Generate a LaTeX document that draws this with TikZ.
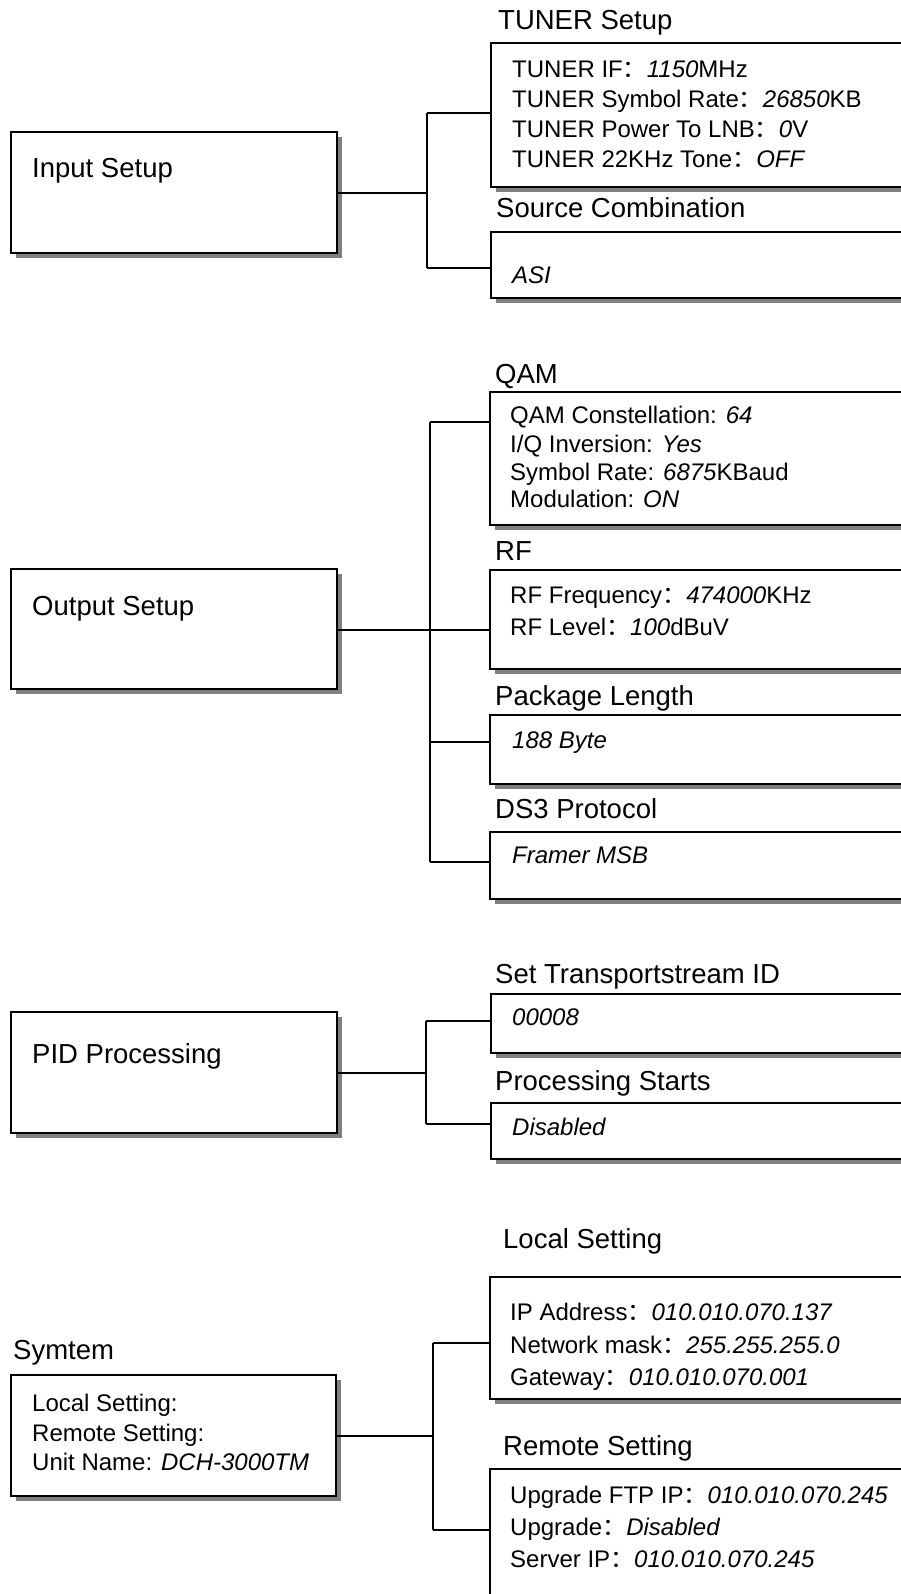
\documentclass[tikz,border=0pt]{standalone}
\usepackage{fontspec}
\setmainfont{Liberation Sans}
\newfontfamily\cjkfont{Noto Sans CJK SC}
\usetikzlibrary{shadows}
\newcommand{\fc}{{\cjkfont ：}}
\begin{document}
\begin{tikzpicture}[x=1pt,y=-1pt,
  sbox/.style={draw=black, fill=white, line width=1.8pt, rectangle, inner sep=0pt, anchor=north west,
    drop shadow={shadow xshift=5pt, shadow yshift=-5pt, fill=black!50, opacity=1}},
  big/.style={font=\fontsize{27.5}{32}\selectfont, anchor=base west, inner sep=0pt},
  txt/.style={font=\fontsize{24}{28}\selectfont, anchor=base west, inner sep=0pt},
  conn/.style={draw=black, line width=1.8pt}]
\useasboundingbox (0,0) rectangle (901,1594);
\clip (0,0) rectangle (901,1594);
\fill[white] (0,0) rectangle (901,1594);

% ---------------- Input Setup ----------------
\node[sbox, minimum width=326pt, minimum height=121pt] (input) at (10,131) {};
\node[big] (inputL) at (32,178) {Input Setup};

\node[big] (tunerT) at (498,30) {TUNER Setup};
\node[sbox, minimum width=440pt, minimum height=144pt] (tuner) at (490,42) {};
\node[txt] (t1) at (512,78) {TUNER IF\fc\textit{1150}MHz};
\node[txt] (t2) at (512,108) {TUNER Symbol Rate\fc\textit{26850}KB};
\node[txt] (t3) at (512,138) {TUNER Power To LNB\fc\textit{0}V};
\node[txt] (t4) at (512,168) {TUNER 22KHz Tone\fc\textit{OFF}};

\node[big] (srcT) at (496,218) {Source Combination};
\node[sbox, minimum width=440pt, minimum height=66pt] (src) at (490,231) {};
\node[txt] (s1) at (512,284) {\textit{ASI}};

\coordinate (a0) at (427,193);
\coordinate (a1) at (427,113);
\coordinate (a2) at (427,268);
\draw[conn] (input.east |- a0) -- (a0);
\draw[conn] (a1) -- (a2);
\draw[conn] (a1) -- (tuner.west |- a1);
\draw[conn] (a2) -- (src.west |- a2);

% ---------------- Output Setup ----------------
\node[sbox, minimum width=326pt, minimum height=120pt] (output) at (10,568) {};
\node[big] (outputL) at (32,615) {Output Setup};

\node[big] (qamT) at (495,383) {QAM};
\node[sbox, minimum width=441pt, minimum height=133pt] (qam) at (489,391) {};
\node[txt] (q1) at (510,423) {QAM Constellation: \textit{64}};
\node[txt] (q2) at (510,452) {I/Q Inversion: \textit{Yes}};
\node[txt] (q3) at (510,480) {Symbol Rate: \textit{6875}KBaud};
\node[txt] (q4) at (510,507) {Modulation: \textit{ON}};

\node[big] (rfT) at (495,560) {RF};
\node[sbox, minimum width=441pt, minimum height=99pt] (rf) at (489,569) {};
\node[txt] (r1) at (510,603) {RF Frequency\fc\textit{474000}KHz};
\node[txt] (r2) at (510,635) {RF Level\fc\textit{100}dBuV};

\node[big] (pkgT) at (495,705) {Package Length};
\node[sbox, minimum width=441pt, minimum height=69pt] (pkg) at (489,714) {};
\node[txt] (p1) at (512,748) {\textit{188 Byte}};

\node[big] (dsT) at (495,818) {DS3 Protocol};
\node[sbox, minimum width=441pt, minimum height=67pt] (ds) at (489,831) {};
\node[txt] (d1) at (512,863) {\textit{Framer MSB}};

\coordinate (b1) at (430,422);
\coordinate (b2) at (430,630);
\coordinate (b3) at (430,742);
\coordinate (b4) at (430,862);
\draw[conn] (b1) -- (b4);
\draw[conn] (output.east |- b2) -- (rf.west |- b2);
\draw[conn] (b1) -- (qam.west |- b1);
\draw[conn] (b3) -- (pkg.west |- b3);
\draw[conn] (b4) -- (ds.west |- b4);

% ---------------- PID Processing ----------------
\node[sbox, minimum width=326pt, minimum height=121pt] (pid) at (10,1011) {};
\node[big] (pidL) at (32,1063) {PID Processing};

\node[big] (tsT) at (495,983) {Set Transportstream ID};
\node[sbox, minimum width=440pt, minimum height=59pt] (ts) at (490,993) {};
\node[txt] (ts1) at (512,1025) {\textit{00008}};

\node[big] (psT) at (495,1090) {Processing Starts};
\node[sbox, minimum width=440pt, minimum height=56pt] (ps) at (490,1102) {};
\node[txt] (ps1) at (512,1135) {\textit{Disabled}};

\coordinate (c0) at (426,1073);
\coordinate (c1) at (426,1021);
\coordinate (c2) at (426,1124);
\draw[conn] (pid.east |- c0) -- (c0);
\draw[conn] (c1) -- (c2);
\draw[conn] (c1) -- (ts.west |- c1);
\draw[conn] (c2) -- (ps.west |- c2);

% ---------------- Symtem ----------------
\node[big] (sysT) at (13,1359) {Symtem};
\node[sbox, minimum width=325pt, minimum height=121pt] (sys) at (10,1374) {};
\node[txt] (y1) at (32,1411) {Local Setting:};
\node[txt] (y2) at (32,1441) {Remote Setting:};
\node[txt] (y3) at (32,1470) {Unit Name: \textit{DCH-3000TM}};

\node[big] (locT) at (503,1248) {Local Setting};
\node[sbox, minimum width=441pt, minimum height=122pt] (loc) at (489,1276) {};
\node[txt] (l1) at (510,1320) {IP Address\fc\textit{010.010.070.137}};
\node[txt] (l2) at (510,1353) {Network mask\fc\textit{255.255.255.0}};
\node[txt] (l3) at (510,1385) {Gateway\fc\textit{010.010.070.001}};

\node[big] (remT) at (503,1455) {Remote Setting};
\node[sbox, minimum width=441pt, minimum height=170pt] (rem) at (489,1468) {};
\node[txt] (m1) at (510,1503) {Upgrade FTP IP\fc\textit{010.010.070.245}};
\node[txt] (m2) at (510,1535) {Upgrade\fc\textit{Disabled}};
\node[txt] (m3) at (510,1567) {Server IP\fc\textit{010.010.070.245}};

\coordinate (e0) at (433,1436);
\coordinate (e1) at (433,1343);
\coordinate (e2) at (433,1530);
\draw[conn] (sys.east |- e0) -- (e0);
\draw[conn] (e1) -- (e2);
\draw[conn] (e1) -- (loc.west |- e1);
\draw[conn] (e2) -- (rem.west |- e2);
\end{tikzpicture}
\end{document}
